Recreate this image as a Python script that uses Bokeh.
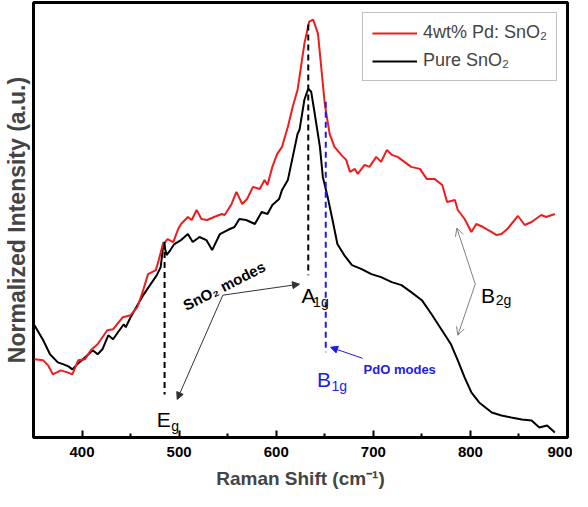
from bokeh.plotting import figure
from bokeh.models import (Range1d, FixedTicker, Legend, LegendItem, Arrow,
                          NormalHead, OpenHead, Label)
from bokeh.embed import file_html
from bokeh.resources import INLINE

# ---------------- data ----------------
shift_pure = [351, 360, 367, 375, 381, 386, 390, 395, 401, 411,
              416, 421, 427, 432, 437, 443, 445, 450, 457, 463,
              470, 477, 481, 484, 487, 491, 495, 502, 509, 514,
              521, 528, 534, 542, 550, 557, 562, 569, 578, 585,
              591, 596, 603, 606, 612, 617, 622, 624, 629, 633,
              636, 639, 645, 648, 653, 658, 663, 670, 678, 688,
              698, 708, 719, 729, 739, 750, 760, 770, 780, 787,
              794, 801, 809, 822, 832, 842, 853, 863, 871, 879, 887]
intensity_pure = [112, 97, 83, 75, 73, 71, 68, 73, 78, 87,
                  83, 88, 102, 98, 105, 113, 110, 120, 132, 142,
                  152, 162, 170, 195, 182, 187, 193, 197, 203, 195,
                  200, 197, 187, 203, 207, 210, 218, 217, 213, 225,
                  223, 232, 238, 247, 257, 280, 303, 307, 337, 348,
                  345, 327, 290, 260, 240, 217, 193, 182, 172, 168,
                  163, 160, 155, 152, 145, 137, 123, 108, 93, 77,
                  60, 45, 35, 25, 22, 20, 18, 17, 10, 12, 5]

shift_pd = [351, 360, 365, 370, 378, 385, 390, 396, 403, 409,
            416, 426, 432, 442, 450, 457, 463, 468, 476, 479,
            483, 488, 494, 499, 502, 509, 513, 518, 523, 529,
            536, 544, 547, 554, 559, 565, 570, 576, 583, 588,
            591, 596, 601, 606, 612, 617, 622, 626, 629, 634,
            638, 643, 647, 650, 655, 660, 667, 672, 676, 681,
            684, 691, 696, 703, 708, 714, 719, 725, 732, 739,
            748, 755, 763, 771, 776, 784, 787, 794, 801, 806,
            813, 822, 827, 832, 838, 849, 856, 863, 873, 878, 887]
intensity_pd = [78, 77, 72, 63, 67, 65, 63, 77, 78, 87,
                93, 107, 108, 120, 122, 130, 147, 163, 167, 177,
                192, 198, 195, 208, 213, 220, 217, 227, 218, 217,
                220, 223, 222, 233, 245, 233, 238, 250, 248, 257,
                252, 270, 283, 290, 310, 330, 347, 373, 393, 415,
                417, 403, 363, 333, 303, 290, 282, 277, 265, 268,
                263, 272, 270, 280, 275, 287, 282, 280, 275, 270,
                268, 258, 258, 252, 235, 237, 227, 218, 205, 213,
                210, 205, 202, 203, 208, 221, 212, 215, 222, 220, 223]

x_major_ticks = [400, 500, 600, 700, 800, 900]
x_minor_ticks = [350, 450, 550, 650, 750, 850]
series_labels = ["4wt% Pd: SnO\u2082", "Pure SnO\u2082"]

FONT = "Liberation Sans"
RED = "#ee1c1c"
BLUE = "#1c1ce8"

p = figure(width=572, height=491, output_backend="svg", toolbar_location=None,
           x_range=Range1d(350, 900), y_range=Range1d(0, 434),
           min_border_left=33, min_border_right=5, min_border_top=2,
           min_border_bottom=0)
p.grid.visible = False
p.outline_line_color = "black"
p.outline_line_width = 3

# x axis
p.xaxis.ticker = FixedTicker(ticks=x_major_ticks, minor_ticks=x_minor_ticks)
p.xaxis.axis_line_width = 3
p.xaxis.major_tick_in = 7
p.xaxis.major_tick_out = 0
p.xaxis.minor_tick_in = 4
p.xaxis.minor_tick_out = 0
p.xaxis.major_tick_line_width = 2
p.xaxis.minor_tick_line_width = 2
p.xaxis.major_label_text_font = FONT
p.xaxis.major_label_text_font_style = "bold"
p.xaxis.major_label_text_font_size = "15px"
p.xaxis.major_label_text_color = "black"
p.xaxis.major_label_standoff = 9
p.xaxis.axis_label = "Raman Shift (cm\u207b\u00b9)"
p.xaxis.axis_label_text_font = FONT
p.xaxis.axis_label_text_font_style = "bold"
p.xaxis.axis_label_text_font_size = "19px"
p.xaxis.axis_label_standoff = 8

# y axis (no ticks)
p.yaxis.ticker = FixedTicker(ticks=[])
p.yaxis.axis_line_color = None
p.yaxis.major_tick_line_color = None
p.yaxis.minor_tick_line_color = None
p.yaxis.axis_label = "Normalized Intensity (a.u.)"
p.yaxis.axis_label_text_font = FONT
p.yaxis.axis_label_text_font_style = "bold"
p.yaxis.axis_label_text_font_size = "23px"
p.yaxis.axis_label_standoff = 4

# spectra
r_pure = p.line(shift_pure, intensity_pure, line_color="black", line_width=2)
r_pd = p.line(shift_pd, intensity_pd, line_color=RED, line_width=2)

legend = Legend(items=[LegendItem(label=series_labels[0], renderers=[r_pd]),
                       LegendItem(label=series_labels[1], renderers=[r_pure])],
                location="top_right")
legend.border_line_color = "#808080"
legend.border_line_width = 1
legend.label_text_font = FONT
legend.label_text_font_size = "18px"
legend.glyph_width = 45
legend.glyph_height = 20
legend.label_height = 20
legend.spacing = 7
legend.padding = 9
legend.margin = 10
legend.label_standoff = 6
p.add_layout(legend)

# mode marker lines
p.segment(x0=[485, 633], y0=[195, 412], x1=[485, 633], y1=[43, 162],
          line_color="black", line_width=2, line_dash="6 4")
p.segment(x0=[651], y0=[335], x1=[651], y1=[85],
          line_color=BLUE, line_width=2, line_dash="6 4")

# labels
def lab(x, y, text, size, color="black", style="normal", angle=0.0):
    p.add_layout(Label(x=x, y=y, text=text, text_font=FONT,
                       text_font_size=size, text_color=color,
                       text_font_style=style, text_align="left",
                       text_baseline="alphabetic", angle=angle))

lab(626, 142, "A", "21px")
lab(638, 135, "1g", "14px")
lab(477, 18, "E", "21px")
lab(492, 11, "g", "14px")
lab(642, 58, "B", "21px", color=BLUE)
lab(657, 51, "1g", "14px", color=BLUE)
lab(811, 142, "B", "21px")
lab(826, 137, "2g", "14px")
lab(505, 131, "SnO\u2082 modes", "15px", style="bold", angle=0.47)
lab(690, 68, "PdO modes", "13px", color=BLUE, style="bold")

# arrows
dark = "#333333"
for xe, ye in [(624, 153), (498, 38)]:
    p.add_layout(Arrow(end=NormalHead(size=7, fill_color=dark, line_color=dark),
                       x_start=545, y_start=142, x_end=xe, y_end=ye,
                       line_color=dark, line_width=1))
p.add_layout(Arrow(end=NormalHead(size=7, fill_color=BLUE, line_color=BLUE),
                   x_start=689, y_start=79, x_end=656, y_end=90,
                   line_color=BLUE, line_width=1))
for xe, ye in [(786, 209), (787, 102)]:
    p.add_layout(Arrow(end=OpenHead(size=8, line_color="#808080", line_width=1),
                       x_start=805, y_start=153, x_end=xe, y_end=ye,
                       line_color="#808080", line_width=1))

open("out.html", "w").write(file_html(p, INLINE))
